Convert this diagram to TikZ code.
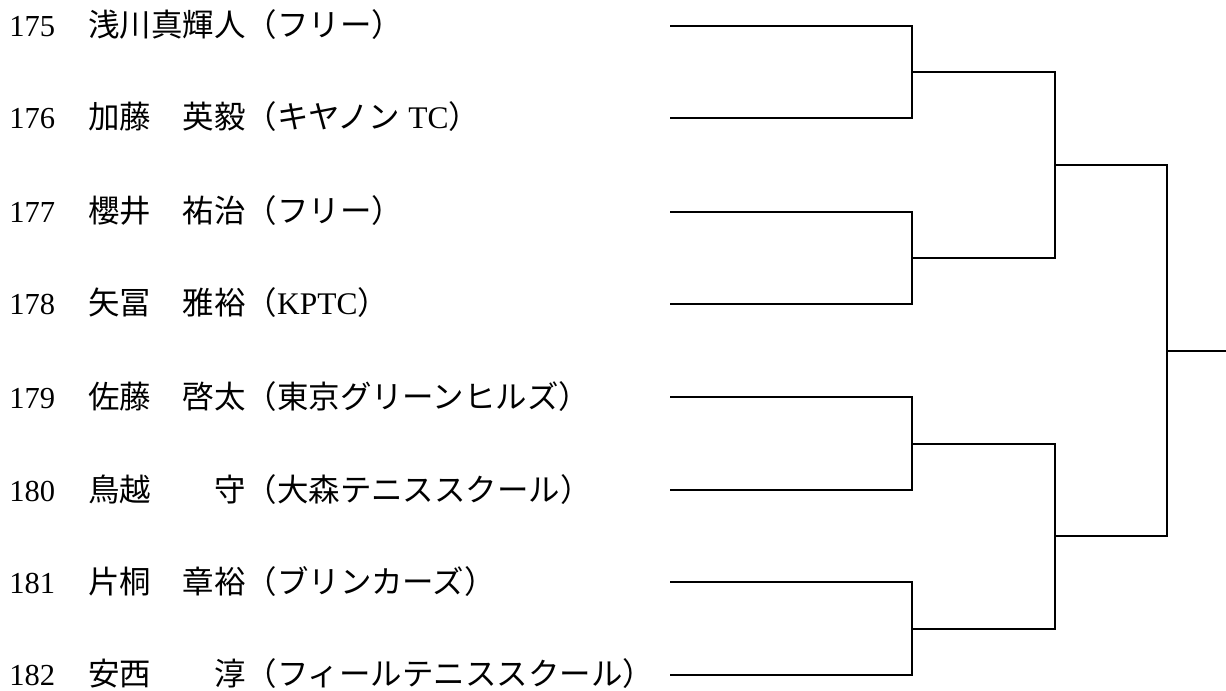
\documentclass[tikz,border=0pt]{standalone}
\usepackage{fontspec}
\setmainfont{Liberation Serif}
\newfontfamily\jp{Noto Sans CJK JP}
\begin{document}
\begin{tikzpicture}[x=0.75pt,y=-0.75pt,
  bline/.style={line width=1.5pt,line cap=rect,line join=miter},
  num/.style={anchor=base west,inner sep=0pt,font=\fontsize{22.9}{27}\selectfont},
  pname/.style={anchor=base west,inner sep=0pt,font=\fontsize{23.6}{27}\selectfont}]
\useasboundingbox (0,0) rectangle (1226,691);
% row y positions
\foreach \i/\y in {1/26,2/118,3/212,4/304,5/397,6/490,7/582,8/675}{
  \coordinate (s\i) at (671,\y);
  \coordinate (e\i) at (912,\y);
}
% numbers
\node[num] (n1) at (9,37) {175};
\node[num] (n2) at (9,129) {176};
\node[num] (n3) at (9,223) {177};
\node[num] (n4) at (9,315) {178};
\node[num] (n5) at (9,408) {179};
\node[num] (n6) at (9,501) {180};
\node[num] (n7) at (9,593) {181};
\node[num] (n8) at (9,685) {182};
% names
\node[pname] (t1) at (88,37) {\jp 浅川真輝人（フリー）};
\node[pname] (t2) at (88,129) {{\jp 加藤　英毅（キヤノン} TC{\jp ）}};
\node[pname] (t3) at (88,223) {\jp 櫻井　祐治（フリー）};
\node[pname] (t4) at (88,315) {{\jp 矢冨　雅裕（}KPTC{\jp ）}};
\node[pname] (t5) at (88,408) {\jp 佐藤　啓太（東京グリーンヒルズ）};
\node[pname] (t6) at (88,501) {\jp 鳥越　　守（大森テニススクール）};
\node[pname] (t7) at (88,593) {\jp 片桐　章裕（ブリンカーズ）};
\node[pname] (t8) at (88,685) {\jp 安西　　淳（フィールテニススクール）};
% round 1 junctions
\coordinate (m12) at (912,72);
\coordinate (m34) at (912,258);
\coordinate (m56) at (912,443.5);
\coordinate (m78) at (912,628.5);
% round 2
\coordinate (r12) at (1055,72);
\coordinate (r34) at (1055,258);
\coordinate (r56) at (1055,443.5);
\coordinate (r78) at (1055,628.5);
\coordinate (q1) at (1055,165);
\coordinate (q2) at (1055,536);
% round 3
\coordinate (f1) at (1167,165);
\coordinate (f2) at (1167,536);
\coordinate (fm) at (1167,350.5);
\coordinate (win) at (1226,350.5);
% draw bracket
\draw[bline] (s1) -- (e1) -- (e2) -- (s2);
\draw[bline] (s3) -- (e3) -- (e4) -- (s4);
\draw[bline] (s5) -- (e5) -- (e6) -- (s6);
\draw[bline] (s7) -- (e7) -- (e8) -- (s8);
\draw[bline] (m12) -- (r12) -- (r34) -- (m34);
\draw[bline] (m56) -- (r56) -- (r78) -- (m78);
\draw[bline] (q1) -- (f1) -- (f2) -- (q2);
\draw[bline] (fm) -- (win);
\end{tikzpicture}
\end{document}
